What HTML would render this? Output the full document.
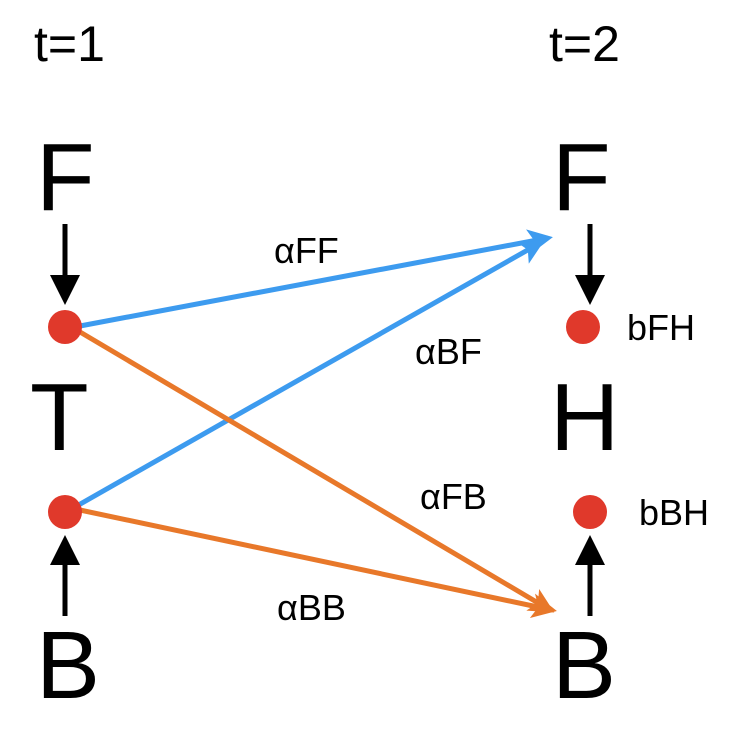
<!DOCTYPE html>
<html><head><meta charset="utf-8"><style>
html,body{margin:0;padding:0;background:#fff;}
svg{display:block;font-family:"Liberation Sans",sans-serif;}
</style></head><body>
<svg width="754" height="736" viewBox="0 0 754 736">
<defs>
<marker id="ab" markerWidth="6" markerHeight="6" refX="5" refY="3" orient="auto" markerUnits="strokeWidth"><path d="M0,0 L6,3 L0,6 Z" fill="#000"/></marker>
<marker id="abl" markerWidth="5" markerHeight="5" refX="4" refY="2.5" orient="auto" markerUnits="strokeWidth"><path d="M0,0 L5,2.5 L0,5 L1.2,2.5 Z" fill="#3d9bef"/></marker>
<marker id="aor" markerWidth="5" markerHeight="5" refX="4" refY="2.5" orient="auto" markerUnits="strokeWidth"><path d="M0,0 L5,2.5 L0,5 L1.2,2.5 Z" fill="#e8782a"/></marker>
</defs>
<text x="34" y="61" font-size="50">t=1</text>
<text x="549" y="61" font-size="50">t=2</text>

<text x="36" y="210" font-size="96">F</text>
<text x="30" y="450" font-size="96">T</text>
<text x="36" y="698" font-size="96">B</text>
<text x="552" y="210" font-size="96">F</text>
<text x="550" y="450" font-size="96">H</text>
<text x="552" y="698" font-size="96">B</text>

<line x1="65" y1="224" x2="65" y2="300" stroke="#000" stroke-width="5" marker-end="url(#ab)"/>
<line x1="65" y1="616" x2="65" y2="540" stroke="#000" stroke-width="5" marker-end="url(#ab)"/>
<line x1="590" y1="224" x2="590" y2="300" stroke="#000" stroke-width="5" marker-end="url(#ab)"/>
<line x1="590" y1="616" x2="590" y2="540" stroke="#000" stroke-width="5" marker-end="url(#ab)"/>

<line x1="80" y1="326" x2="548" y2="238" stroke="#3d9bef" stroke-width="5" marker-end="url(#abl)"/>
<line x1="75" y1="507" x2="540" y2="243" stroke="#3d9bef" stroke-width="5" marker-end="url(#abl)"/>
<line x1="80" y1="332" x2="550" y2="610" stroke="#e8782a" stroke-width="5" marker-end="url(#aor)"/>
<line x1="80" y1="510" x2="552" y2="610" stroke="#e8782a" stroke-width="5" marker-end="url(#aor)"/>

<circle cx="65" cy="327" r="17" fill="#e0392b"/>
<circle cx="65" cy="512" r="17" fill="#e0392b"/>
<circle cx="583" cy="327" r="17" fill="#e0392b"/>
<circle cx="590" cy="512" r="17" fill="#e0392b"/>

<text x="274" y="263" font-size="36">αFF</text>
<text x="415" y="364" font-size="36">αBF</text>
<text x="420" y="509" font-size="36">αFB</text>
<text x="277" y="620" font-size="36">αBB</text>
<text x="627" y="340" font-size="36">bFH</text>
<text x="639" y="525" font-size="36">bBH</text>
</svg>
</body></html>
